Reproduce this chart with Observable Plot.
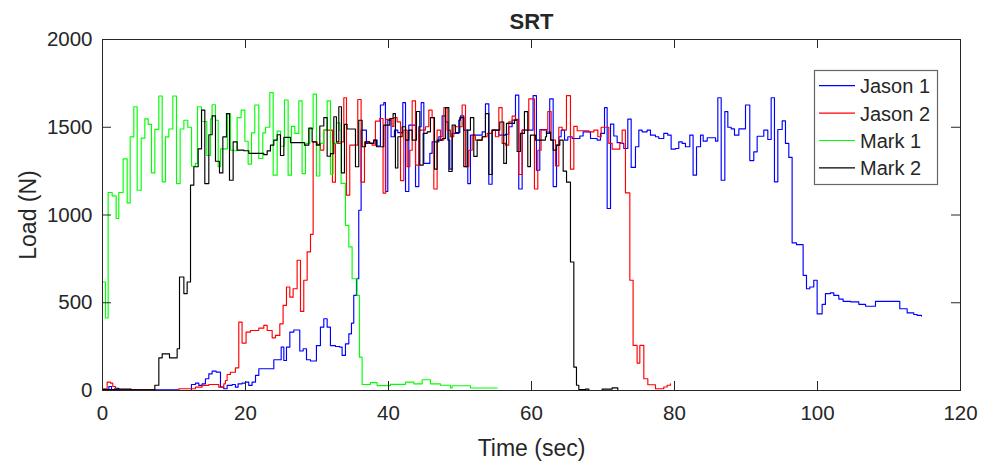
<!DOCTYPE html>
<html><head><meta charset="utf-8">
<script src="https://cdn.jsdelivr.net/npm/d3@7"></script>
<script src="https://cdn.jsdelivr.net/npm/@observablehq/plot@0.6"></script>
<style>body{margin:0;background:#fff;} #chart{width:984px;height:463px;}</style>
</head><body><div id="chart"></div>
<script>
const chartTitle = "SRT";
const xLabel = "Time (sec)";
const yLabel = "Load (N)";
const seriesNames = ["Jason 1", "Jason 2", "Mark 1", "Mark 2"];
const seriesColors = ["#0000ff", "#ff0000", "#00ff00", "#000000"];
const xTicks = [0, 20, 40, 60, 80, 100, 120];
const yTicks = [0, 500, 1000, 1500, 2000];

const jason1Time = [0,0.89,1.26,1.72,2.28,10.67,12.44,13.0,13.47,13.93,14.4,14.87,15.33,15.89,16.5,16.96,17.43,18.13,18.59,18.96,19.52,19.99,20.46,20.92,21.4,21.86,23.96,24.99,25.36,25.73,26.2,26.76,27.59,28.06,28.53,29.09,29.92,30.48,30.95,31.42,31.88,32.58,33.19,33.51,33.98,34.45,34.82,35.14,35.52,35.84,36.17,36.91,37.94,38.41,38.87,39.34,39.57,39.9,40.36,40.83,41.3,42.0,42.38,42.84,43.78,44.24,44.57,44.94,45.78,46.1,47.04,47.5,47.97,48.3,48.57,48.9,49.83,50.07,50.53,51.09,51.46,53.1,53.56,54.03,54.49,55.43,56.36,56.82,57.29,57.76,58.22,58.69,59.48,60.22,60.69,61.16,62.09,62.55,63.03,63.5,63.82,64.15,64.62,65.08,65.69,66.76,67.22,68.25,69.18,69.65,70.21,70.58,71.05,71.51,71.98,72.44,72.91,73.47,73.94,74.54,75.01,75.47,76.17,76.64,77.34,77.8,78.5,79.06,79.53,80.13,80.6,81.07,81.53,82.14,82.6,83.08,83.64,84.01,84.57,85.74,86.06,86.53,87.04,87.46,87.93,88.39,89.0,89.93,90.53,91.09,91.56,92.49,93.05,93.52,93.98,94.45,95.06,95.52,95.99,96.45,97.06,97.99,98.46,98.92,99.48,99.95,100.65,101.11,101.81,102.28,102.98,103.58,104.62,105.78,106.72,108.11,111.51,112.54,113.47,113.94,114.54];
const jason1Load = [0,23,4,13,4,0,34,42,29,38,67,95,110,105,19,10,29,34,19,38,42,48,29,48,86,124,175,247,171,247,333,345,225,238,175,168,256,361,409,361,256,251,247,200,266,323,384,542,637,1027,1484,1408,1427,1393,1627,1640,1134,1541,1446,1484,1469,1640,1134,1512,1162,1503,1640,1294,1351,1417,1446,1565,1531,1427,1261,1465,1541,1565,1484,1179,1455,1474,1633,1175,1484,1455,1460,1503,1541,1683,1148,1484,1484,1680,1255,1487,1465,1662,1162,1398,1446,1484,1427,1446,1436,1450,1474,1436,1427,1465,1612,1037,1518,1450,1412,1408,1379,1546,1271,1389,1484,1474,1484,1455,1446,1436,1465,1455,1375,1379,1417,1408,1389,1455,1227,1389,1455,1421,1440,1421,1668,1198,1589,1500,1491,1455,1491,1627,1310,1360,1449,1484,1430,1668,1189,1487,1536,1408,1328,841,831,656,580,590,628,437,491,552,556,542,521,508,505,491,480,508,466,442,433,428,424];

const jason2Time = [0,0.65,1.12,1.44,1.82,7.41,10.67,13.0,13.93,14.87,16.26,16.96,17.19,17.43,17.89,18.59,19.06,19.52,20.08,20.69,21.86,22.56,23.03,23.73,24.19,24.8,25.26,25.73,26.2,26.66,27.22,27.69,28.15,28.62,29.09,29.46,30.02,30.48,30.95,32.16,32.58,33.28,33.75,34.12,34.58,35.7,36.17,36.64,37.24,37.71,38.17,38.78,39.24,39.62,40.5,40.75,41.21,41.68,42.14,42.61,42.98,43.31,43.78,44.24,45.17,45.64,46.1,46.34,46.8,47.27,47.74,48.2,48.67,49.13,50.3,50.77,51.23,51.7,52.16,53.1,53.79,54.49,54.96,55.43,55.89,56.36,56.82,57.29,57.76,58.22,58.69,59.62,60.41,60.88,61.34,62.28,62.75,63.36,63.82,64.29,64.89,65.45,65.92,66.39,68.02,68.72,69.28,69.74,70.81,71.28,72.35,72.68,73.14,73.75,74.21,74.77,75.15,75.71,76.27,77.34,78.5,78.97,79.43];
const jason2Load = [10,48,42,23,4,0,10,19,29,34,19,38,57,91,104,129,390,270,333,342,355,371,342,300,314,380,485,590,532,580,742,451,628,790,890,1417,1402,1370,1484,1187,1408,1417,1668,1113,1398,1658,1187,1417,1408,1398,1535,1550,1125,1545,1505,1555,1531,1196,1484,1276,1369,1650,1284,1484,1503,1598,1555,1148,1484,1427,1612,1484,1446,1503,1627,1276,1369,1455,1427,1446,1465,1484,1446,1612,1408,1398,1531,1563,1545,1231,1484,1662,1148,1369,1484,1590,1427,1280,1500,1484,1680,1261,1505,1480,1474,1484,1446,1500,1408,1375,1408,1484,1126,628,257,156,257,67,33,10,20,30,38];

const mark1Time = [0,0.42,0.79,1.35,1.91,2.28,2.89,3.45,3.87,4.38,4.85,5.41,5.92,6.39,6.85,7.32,7.88,8.35,8.81,9.28,9.84,10.35,10.86,11.38,11.93,12.45,13.0,13.29,13.85,14.59,15.1,15.33,15.8,16.18,16.5,17.48,17.9,18.37,18.83,19.39,19.91,20.37,20.84,21.3,21.86,22.42,22.8,23.4,23.87,24.43,24.9,25.45,25.96,26.43,26.9,27.46,27.92,28.39,28.99,29.46,29.92,30.39,30.95,31.42,31.88,32.25,32.72,33.19,33.37,33.98,34.45,34.91,35.61,35.94,36.31,37.47,38.41,40.27,42.38,43.54,44.71,45.87,47.27,48.67,48.9,51.46,55.2];
const mark1Load = [618,413,1128,1109,980,1128,1320,1069,1445,1617,1141,1438,1548,1516,1240,1488,1678,1189,1445,1490,1678,1179,1490,1540,1500,1278,1294,1617,1533,1339,1548,1628,1540,1275,1377,1578,1370,1366,1555,1598,1420,1290,1468,1627,1322,1468,1500,1697,1227,1478,1392,1655,1227,1505,1465,1650,1236,1408,1490,1689,1222,1408,1484,1650,1232,1408,1525,1484,1180,941,818,637,542,190,34,45,28,35,48,38,61,38,30,14,27,14,14];

const mark2Time = [0,2.0,4.0,7.32,7.88,8.35,9.37,10.44,10.77,11.38,11.84,12.31,12.77,13.38,13.85,14.31,14.87,15.34,15.8,16.36,16.83,17.34,17.76,18.27,18.83,19.77,20.47,22.56,23.03,23.49,23.96,24.43,24.89,25.36,26.29,28.25,28.85,29.32,29.92,30.39,30.95,31.42,31.88,32.35,32.72,33.05,33.42,33.84,34.21,35.38,35.84,36.31,36.78,37.38,37.94,38.31,39.34,40.18,40.64,40.97,41.31,41.91,42.38,42.84,43.31,43.91,44.38,44.85,45.41,45.87,46.43,46.8,47.5,47.97,48.44,48.9,49.37,49.97,50.53,51.0,51.46,51.93,52.4,53.1,53.56,54.03,54.49,55.56,56.12,56.5,57.62,57.99,58.45,59.01,59.48,59.85,60.55,61.48,61.95,62.1,62.66,63.03,63.5,63.96,64.43,64.9,65.45,65.92,66.29,66.62,67.55,68.02,69.88,71.28,72.07];
const mark2Load = [5,8,4,30,186,209,186,238,647,552,618,1170,1275,1377,1598,1179,1457,1565,1306,1240,1445,1578,1198,1417,1370,1366,1351,1344,1365,1398,1427,1457,1339,1442,1412,1398,1495,1417,1398,1507,1555,1335,1350,1560,1417,1617,1240,1516,1490,1275,1540,1389,1417,1408,1427,1389,1512,1550,1578,1268,1446,1503,1427,1484,1427,1590,1284,1465,1474,1555,1261,1427,1436,1612,1248,1512,1470,1555,1276,1484,1555,1334,1427,1446,1578,1231,1484,1530,1294,1522,1541,1362,1465,1589,1276,1455,1427,1427,1446,1473,1427,1370,1398,1427,1250,1187,732,133,30,5,8,0,8,15,0];

const seriesTimes = [jason1Time, jason2Time, mark1Time, mark2Time];
const seriesLoads = [jason1Load, jason2Load, mark1Load, mark2Load];
const rows = [];
seriesNames.forEach((name, s) => {
  seriesTimes[s].forEach((t, i) => rows.push({series: name, t, load: seriesLoads[s][i]}));
});

const W = 984, H = 463, mL = 102, mR = 24, mT = 39, mB = 73;
const fw = W - mL - mR, fh = H - mT - mB, tickLen = 9;
const font = "'Liberation Sans', Arial, Helvetica, sans-serif";
const axisColor = "#262626";

const plot = Plot.plot({
  width: W, height: H,
  marginLeft: mL, marginRight: mR, marginTop: mT, marginBottom: mB,
  style: {fontFamily: font, background: "#fff", color: axisColor},
  x: {domain: [0, 120]},
  y: {domain: [0, 2000]},
  color: {domain: seriesNames, range: seriesColors},
  marks: [
    Plot.line(rows, {x: "t", y: "load", z: "series", stroke: "series", curve: "step-after", strokeWidth: 1.15}),
    Plot.frame({stroke: axisColor, strokeWidth: 1}),
    Plot.tickX(xTicks, {x: d => d, stroke: axisColor, insetTop: fh - tickLen}),
    Plot.tickX(xTicks, {x: d => d, stroke: axisColor, insetBottom: fh - tickLen}),
    Plot.tickY(yTicks, {y: d => d, stroke: axisColor, insetRight: fw - tickLen}),
    Plot.tickY(yTicks, {y: d => d, stroke: axisColor, insetLeft: fw - tickLen}),
    Plot.axisX({ticks: xTicks, tickSize: 0, tickPadding: 15, fontSize: 20.5, label: null, tickFormat: d => String(d)}),
    Plot.axisY({ticks: yTicks, tickSize: 0, tickPadding: 10, fontSize: 20.5, label: null, tickFormat: d => String(d)}),
    Plot.text([xLabel], {frameAnchor: "bottom", text: d => d, dy: 65, lineAnchor: "bottom", textAnchor: "middle", fontSize: 23}),
    Plot.text([yLabel], {frameAnchor: "left", text: d => d, rotate: -90, dx: -67, lineAnchor: "bottom", textAnchor: "middle", fontSize: 23}),
    Plot.text([chartTitle], {frameAnchor: "top", text: d => d, dy: -10.7, lineAnchor: "bottom", textAnchor: "middle", fontSize: 22, fontWeight: "bold"})
  ]
});

const svg = d3.select(plot);
const lg = svg.append("g").attr("font-family", font).attr("font-size", 20).attr("fill", axisColor).attr("text-anchor", "start");
lg.append("rect").attr("x", 814.5).attr("y", 70.5).attr("width", 123).attr("height", 114)
  .attr("fill", "#fff").attr("stroke", "#666").attr("stroke-width", 1.2);
seriesNames.forEach((n, i) => {
  const y = 85.7 + i * 27.4;
  lg.append("line").attr("x1", 819).attr("x2", 855).attr("y1", y).attr("y2", y)
    .attr("stroke", seriesColors[i]).attr("stroke-width", 1.2);
  lg.append("text").attr("x", 860).attr("y", y + 7.5).attr("text-anchor", "start").text(n);
});
document.getElementById("chart").appendChild(plot);
</script>
</body></html>
